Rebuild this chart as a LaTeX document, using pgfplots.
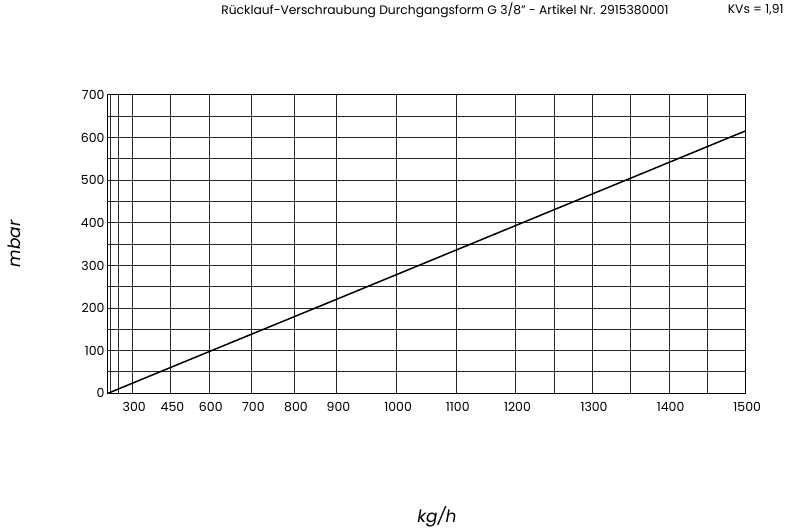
\documentclass[border=0pt]{standalone}
\usepackage{fontspec}
\setmainfont{Poppins}
\usepackage{pgfplots}
\pgfplotsset{compat=1.18}
\begin{document}
\begin{tikzpicture}
\useasboundingbox (-108pt,-135.7pt) rectangle (682pt,393.3pt);
\begin{axis}[
  at={(0pt,0pt)}, anchor=south west,
  scale only axis, width=637.7pt, height=298.3pt,
  x coord trafo/.code={\pgfmathparse{ifthenelse(#1<600, 24.7+(#1-300)*0.2553, ifthenelse(#1<900, 101.3+(#1-600)*0.4257, ifthenelse(#1<1200, 229+(#1-900)*0.5967, 408+(#1-1200)*0.7657)))}},
  xmin=203.25, xmax=1500, ymin=0, ymax=700,
  xtick={214,244,300,450,600,700,800,900,1000,1100,1200,1250,1300,1350,1400,1450,1500},
  xticklabels={,,300,450,600,700,800,900,1000,1100,1200,,1300,,1400,,1500},
  ytick={0,100,...,700}, minor ytick={50,150,...,650},
  grid=both, major grid style={black!85, line width=1pt}, minor grid style={black!85, line width=1pt},
  major tick length=0pt, minor tick length=0pt,
  axis line style={black, line width=1pt},
  /pgf/number format/assume math mode=true,
  tick label style={font=\fontsize{12.5}{14}\selectfont},
  xticklabel style={yshift=-5pt, xshift=1.5pt},
  yticklabel style={xshift=0pt},
]
\addplot[black, line width=1.5pt] coordinates {(203.25,0) (300,24) (600,98) (900,221) (1200,394) (1500,616)};
\end{axis}
\node[font=\fontsize{12.3}{14}\selectfont] at (337pt,383pt) {Rücklauf-Verschraubung Durchgangsform G 3/8" - Artikel Nr. 2915380001};
\node[font=\fontsize{12.3}{14}\selectfont, anchor=east] at (679pt,383pt) {KVs = 1,91};
\node[font=\fontsize{17}{19}\selectfont\itshape, rotate=90] at (-94pt,149.3pt) {mbar};
\node[font=\fontsize{17}{19}\selectfont\itshape] at (329pt,-123.7pt) {kg/h};
\end{tikzpicture}
\end{document}
